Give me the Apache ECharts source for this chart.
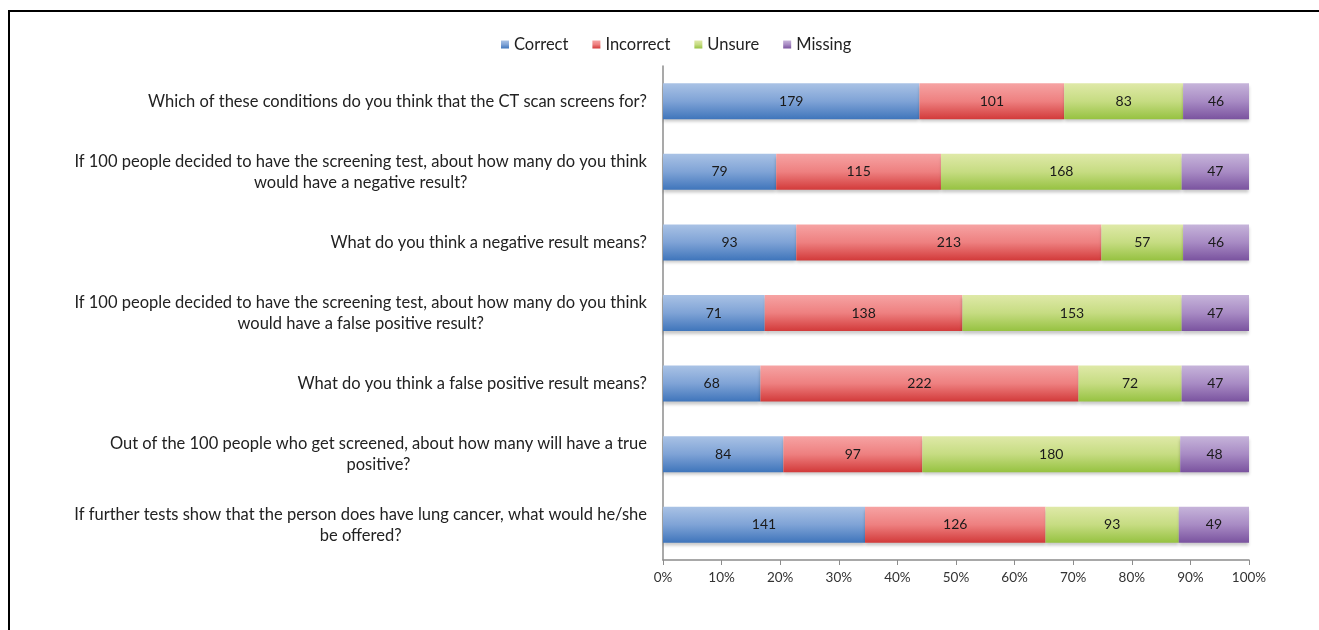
<!DOCTYPE html>
<html>
<head>
<meta charset="utf-8">
<script src="https://cdn.jsdelivr.net/npm/echarts@6/dist/echarts.min.js"></script>
<style>
  html, body { margin: 0; padding: 0; background: #fff; }
  #frame { position: absolute; left: 8px; top: 10px; width: 1320px; height: 630px;
           border-top: 2px solid #000; border-left: 2px solid #000; }
  #main { position: absolute; left: 0; top: 0; width: 1319px; height: 630px; }
</style>
</head>
<body>
<div id="frame"></div>
<div id="main"></div>
<script>
// questions, top to bottom
const questions = [
  'Which of these conditions do you think that the CT scan screens for?',
  'If 100 people decided to have the screening test, about how many do you think\nwould have a negative result?',
  'What do you think a negative result means?',
  'If 100 people decided to have the screening test, about how many do you think\nwould have a false positive result?',
  'What do you think a false positive result means?',
  'Out of the 100 people who get screened, about how many will have a true\npositive?',
  'If further tests show that the person does have lung cancer, what would he/she\nbe offered?'
]
const correct = [179, 79, 93, 71, 68, 84, 141]
const incorrect = [101, 115, 213, 138, 222, 97, 126]
const unsure = [83, 168, 57, 153, 72, 180, 93]
const missing = [46, 47, 46, 47, 47, 48, 49]
const xTicks = ['0%', '10%', '20%', '30%', '40%', '50%', '60%', '70%', '80%', '90%', '100%']

const seriesNames = ['Correct', 'Incorrect', 'Unsure', 'Missing']
const counts = [correct, incorrect, unsure, missing]
const gradients = [
  ['#a9c2e5', '#7fa3d6', '#3f75bb'],
  ['#f6a3a3', '#ee8080', '#d23a3a'],
  ['#dfe9a8', '#c6dc82', '#96c241'],
  ['#c6b4da', '#a88bc4', '#7a539f']
]

const totals = questions.map((q, i) => counts.reduce((s, arr) => s + arr[i], 0))

const chart = echarts.init(document.getElementById('main'))

const option = {
  animation: false,
  textStyle: { fontFamily: 'Lato' },
  legend: {
    top: 31,
    left: 496,
    icon: 'rect',
    itemWidth: 8,
    itemHeight: 8,
    itemGap: 24,
    textStyle: { fontSize: 16.5, color: '#222', fontFamily: 'Lato' },
    data: seriesNames
  },
  grid: { left: 663, right: 70, top: 66, bottom: 70, containLabel: false },
  xAxis: {
    type: 'value',
    min: 0,
    max: 100,
    interval: 10,
    axisLine: { show: true, lineStyle: { color: '#8c8c8c', width: 1.5 } },
    axisTick: { show: true, length: 5, lineStyle: { color: '#8c8c8c' } },
    splitLine: { show: false },
    axisLabel: {
      fontSize: 13.5, color: '#333', margin: 11,
      formatter: (v) => xTicks[Math.round(v / 10)]
    }
  },
  yAxis: {
    type: 'category',
    inverse: true,
    data: questions,
    axisLine: { show: true, lineStyle: { color: '#8c8c8c', width: 1.5 } },
    axisTick: { show: false },
    axisLabel: {
      margin: 16,
      color: '#222',
      formatter: (v) => v.split('\n').map(l => '{c|' + l + '}').join('\n'),
      rich: {
        c: { align: 'center', fontSize: 16.5, lineHeight: 21, color: '#222', fontFamily: 'Lato' }
      }
    }
  },
  series: seriesNames.map((name, k) => ({
    name: name,
    type: 'bar',
    stack: 'all',
    barCategoryGap: '49%',
    itemStyle: {
      color: new echarts.graphic.LinearGradient(0, 0, 0, 1, [
        { offset: 0, color: gradients[k][0] },
        { offset: 0.5, color: gradients[k][1] },
        { offset: 1, color: gradients[k][2] }
      ]),
      shadowColor: 'rgba(0,0,0,0.22)',
      shadowBlur: 3,
      shadowOffsetY: 3
    },
    label: {
      show: true,
      position: 'inside',
      fontSize: 14,
      color: '#1a1a1a',
      fontFamily: 'Lato',
      formatter: (p) => String(counts[k][p.dataIndex])
    },
    data: counts[k].map((c, i) => c / totals[i] * 100)
  })),
  color: gradients.map(g => g[2])
}

chart.setOption(option)
</script>
</body>
</html>
